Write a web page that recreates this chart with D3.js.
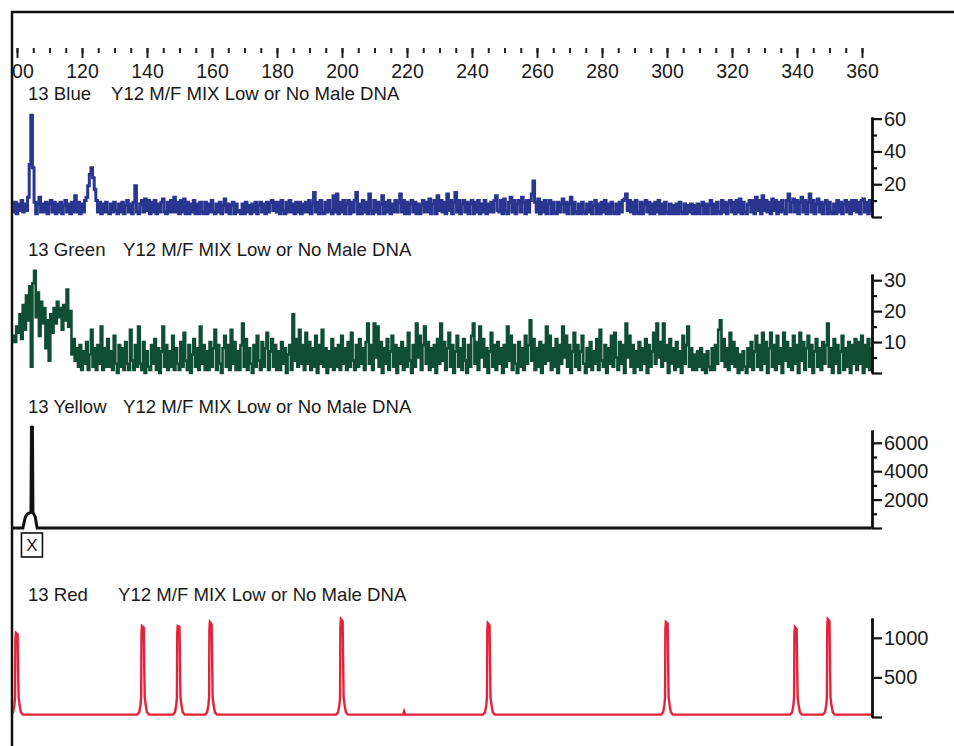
<!DOCTYPE html>
<meta charset="utf-8">
<script src="https://d3js.org/d3.v7.min.js"></script>
<style>
    body { margin: 0; background-color: white; }
    text { font-family: "Liberation Sans", Arial, sans-serif; fill: #1a1a1a; }
</style>
<div id="my_dataviz"></div>
<script>
    // run info
    var dyeNames = ["13 Blue", "13 Green", "13 Yellow", "13 Red"];
    var runTitle = "Y12 M/F MIX Low or No Male DNA";

    // size ruler (bp)
    var sizeLabels = [100, 120, 140, 160, 180, 200, 220, 240, 260, 280, 300, 320, 340, 360];

    // blue and green are sampled every half bp starting at 98.5
    var bpStart = 98.5, bpStep = 0.5;
    var blueValues = [
        8,3,9,2,8,4,10,3,8,4,12,32,62,30,9,2,8,12,3,8,
        3,9,2,8,10,3,9,2,8,3,9,2,7,10,3,8,2,9,3,13,
        3,9,2,8,3,10,12,19,26,30,24,17,10,3,9,2,8,3,9,3,
        2,8,3,9,4,2,8,3,9,2,7,10,3,8,2,9,19,3,2,8,
        10,3,11,4,10,2,9,3,10,2,8,3,9,11,3,2,9,3,10,3,
        12,3,9,2,10,3,11,2,9,2,8,3,10,2,8,2,9,3,2,9,
        2,8,3,10,3,2,8,3,9,2,7,11,3,8,2,7,9,2,8,3,
        4,2,8,2,9,3,7,2,8,3,9,2,7,9,3,8,2,9,3,9,
        10,4,9,3,9,2,10,4,2,9,3,10,3,8,2,9,3,9,2,8,
        3,9,3,10,2,8,15,3,9,2,10,3,2,9,3,10,4,2,13,3,
        14,2,9,3,10,2,8,10,2,9,3,10,15,2,8,2,10,3,9,2,
        14,4,2,10,3,9,2,8,13,2,9,3,10,2,8,3,10,3,9,14,
        3,10,2,9,2,8,10,3,9,2,8,2,7,10,3,9,3,11,2,8,
        10,2,13,4,10,3,9,2,14,4,10,2,9,15,3,10,2,8,10,3,
        9,2,8,10,2,9,3,10,2,8,3,10,2,8,3,9,3,10,13,4,
        3,10,2,11,4,2,9,12,3,10,2,8,10,3,12,9,2,10,3,10,
        14,22,9,3,11,2,9,3,10,2,8,10,2,9,3,2,9,3,8,11,
        3,9,2,8,12,2,9,3,2,8,2,9,3,2,8,3,9,2,7,10,
        2,8,2,9,3,10,2,8,2,9,3,2,8,2,9,3,10,11,14,4,
        10,3,9,2,10,3,2,9,2,8,10,3,9,2,8,2,9,3,10,2,
        8,2,9,3,2,8,2,7,2,8,2,9,3,2,8,2,7,3,8,2,
        7,2,8,2,7,9,2,8,2,7,10,2,8,2,9,3,2,10,3,9,
        2,8,10,3,9,2,10,3,11,2,9,3,2,8,10,3,10,2,12,4,
        10,2,13,4,10,3,9,2,11,4,10,2,9,3,10,4,2,10,14,3,
        9,11,3,10,2,9,12,3,10,2,9,14,3,10,2,8,11,3,9,2,
        8,10,2,9,3,2,8,2,10,3,9,2,8,10,3,9,2,10,4,10,
        3,9,2,10,11,3,9,2,10,4
    ];
    var greenValues = [
        10,12,10,15,13,19,11,22,14,25,17,28,2,29,33,18,26,12,23,16,
        21,8,17,4,19,13,21,16,23,18,21,14,22,17,27,15,20,6,11,4,
        8,2,9,1,7,3,10,1,6,14,2,8,1,9,3,15,1,8,2,11,
        2,7,1,12,3,0,9,2,8,1,10,3,1,14,4,1,9,2,15,3,
        1,10,0,7,2,1,9,3,11,1,8,0,7,15,2,9,1,7,2,12,
        1,8,3,1,10,2,13,4,1,9,0,6,11,2,8,1,15,3,9,1,
        7,1,10,2,8,14,1,9,3,0,8,12,2,9,1,14,3,10,1,7,
        1,9,16,2,11,1,8,3,0,9,2,12,4,1,10,2,8,13,1,7,
        11,2,9,1,7,1,10,3,8,0,6,9,1,19,4,11,2,14,3,9,
        1,13,3,10,1,8,2,12,0,9,3,14,2,8,0,7,2,11,1,8,
        2,9,1,12,3,8,1,10,2,13,4,1,9,2,11,3,8,1,10,16,
        3,9,1,16,5,15,2,10,0,8,3,11,1,7,12,2,9,0,8,3,
        10,1,8,2,13,4,0,9,2,16,5,12,1,9,15,3,10,1,8,2,
        9,0,11,3,16,4,10,1,8,13,2,9,0,7,12,2,8,1,11,4,
        0,9,2,12,16,3,10,1,15,5,11,2,8,0,7,13,2,9,1,10,
        3,8,0,9,2,15,4,12,1,9,3,0,10,2,8,1,12,3,9,17,
        4,11,1,8,2,10,0,9,3,15,4,12,1,8,2,11,0,9,3,15,
        5,12,2,9,0,7,13,2,9,1,7,12,3,0,8,2,10,1,7,3,
        11,1,14,4,2,9,0,8,3,12,2,13,5,1,10,3,9,0,16,5,
        12,2,9,0,7,2,10,1,8,3,11,0,9,2,7,13,3,16,5,10,
        2,16,4,9,0,11,3,8,1,10,2,7,0,12,3,9,15,2,8,1,
        6,1,7,2,8,1,6,0,7,2,1,8,1,9,3,14,17,4,11,2,
        8,1,13,3,10,2,8,0,6,1,7,2,0,8,2,10,1,7,12,2,
        9,1,13,3,10,0,8,13,2,9,1,12,3,8,0,13,4,10,2,8,
        1,12,3,9,0,13,4,10,1,8,12,2,9,0,7,11,2,8,1,10,
        3,9,16,2,8,0,11,3,9,0,7,12,1,8,2,10,0,9,3,11,
        1,10,3,12,0,9,2,11,1,8
    ];

    // yellow and red as [bp, rfu] points
    var yellowPoints = [
        [98.5,0],[101.8,0],[102.6,800],[103.3,1000],[104.3,1100],[104.45,7100],
        [104.75,7100],[104.9,1100],[105.6,800],[106.2,0],[363,0]
    ];
    var redPoints = [
        [98.5,40],[98.8,60],[99.2,150],[99.4,250],[99.5,980],[99.65,1062],[100.2,1040],[100.35,580],[100.5,250],[100.8,150],[101.2,60],[101.8,30],
        [137,30],[137.6,60],[138,150],[138.2,250],[138.3,1060],[138.45,1150],[139,1130],[139.15,630],[139.3,250],[139.6,150],[140,60],[140.6,30],
        [148,30],[148.6,60],[149,150],[149.2,250],[149.3,1060],[149.45,1150],[150,1140],[150.15,640],[150.3,250],[150.6,150],[151,60],[151.6,30],
        [157.9,30],[158.5,60],[158.9,150],[159.1,250],[159.2,1100],[159.35,1200],[159.9,1170],[160.05,700],[160.2,250],[160.5,150],[160.9,60],[161.5,30],
        [198.2,30],[198.8,60],[199.2,150],[199.4,250],[199.5,1140],[199.65,1237],[200.2,1210],[200.35,680],[200.5,250],[200.8,150],[201.2,60],[201.8,30],
        [218.8,30],[219.1,70],[219.4,30],
        [243.4,30],[244,60],[244.4,150],[244.6,250],[244.7,1090],[244.85,1187],[245.4,1160],[245.55,660],[245.7,250],[246,150],[246.4,60],[247,30],
        [298.2,30],[298.8,60],[299.2,150],[299.4,250],[299.5,1100],[299.65,1200],[300.2,1180],[300.35,690],[300.5,250],[300.8,150],[301.2,60],[301.8,30],
        [337.9,30],[338.5,60],[338.9,150],[339.1,250],[339.2,1050],[339.35,1137],[339.9,1110],[340.05,620],[340.2,250],[340.5,150],[340.9,60],[341.5,30],
        [348,30],[348.6,60],[349,150],[349.2,250],[349.3,1140],[349.45,1237],[350,1210],[350.15,700],[350.3,250],[350.6,150],[351,60],[351.6,30],
        [363,30]
    ];

    // rfu axis ticks per dye
    var blueTicks = [0, 20, 40, 60], blueMinor = [10, 30, 50];
    var greenTicks = [0, 10, 20, 30], greenMinor = [5, 15, 25];
    var yellowTicks = [0, 2000, 4000, 6000], yellowMinor = [1000, 3000, 5000];
    var redTicks = [0, 500, 1000], redMinor = [];

    var sampled = function(values) {
        return values.map(function(v, i) { return [bpStart + i * bpStep, v]; });
    };

    var panels = [
        { name: dyeNames[0], points: sampled(blueValues), color: "#28368f", lw: 3, curve: d3.curveStep,
          ticks: blueTicks, minor: blueMinor, top: 61, y0: 217, y1: 117, titleY: 100, runX: 111 },
        { name: dyeNames[1], points: sampled(greenValues), color: "#0f4d34", lw: 2.6, curve: d3.curveStep,
          ticks: greenTicks, minor: greenMinor, top: 32, y0: 373, y1: 274, titleY: 256, runX: 123 },
        { name: dyeNames[2], points: yellowPoints, color: "#111", lw: 3, curve: d3.curveLinear,
          ticks: yellowTicks, minor: yellowMinor, top: 6900, y0: 528, y1: 430, titleY: 413, runX: 123 },
        { name: dyeNames[3], points: redPoints, color: "#e5223a", lw: 2.4, curve: d3.curveLinear,
          ticks: redTicks, minor: redMinor, top: 1250, y0: 717, y1: 618, titleY: 601, runX: 118 }
    ];

    var width = 954, height = 746;
    var svg = d3.select("#my_dataviz")
        .append("svg")
        .attr("width", width)
        .attr("height", height);

    svg.append("clipPath").attr("id", "frame-clip")
        .append("rect").attr("x", 13).attr("y", 13).attr("width", width - 13).attr("height", height - 13);

    var x = d3.scaleLinear().domain([100, 360]).range([17, 862]);

    // outer frame
    svg.append("path")
        .attr("d", "M12," + height + "V12H" + width)
        .attr("fill", "none")
        .attr("stroke", "#111")
        .attr("stroke-width", 2.5);

    // size ruler
    var ruler = svg.append("g").attr("clip-path", "url(#frame-clip)");
    ruler.append("g")
        .attr("transform", "translate(0,48)")
        .call(d3.axisBottom(x).tickValues(d3.range(100, 361, 5)).tickSize(5).tickFormat(""));
    ruler.append("g")
        .attr("transform", "translate(0,48)")
        .call(d3.axisBottom(x).tickValues(sizeLabels).tickSize(10).tickPadding(6).tickFormat(d3.format("d")));
    ruler.selectAll(".domain").remove();
    ruler.selectAll(".tick line").attr("stroke", "#222").attr("stroke-width", 2);
    ruler.selectAll(".tick text").attr("font-size", "19.5px").attr("font-family", "Liberation Sans, Arial, sans-serif").attr("fill", "#1a1a1a");

    panels.forEach(function(p) {
        var y = d3.scaleLinear().domain([0, p.top]).range([p.y0, p.y1]);

        svg.append("text").attr("x", 28).attr("y", p.titleY).attr("font-size", "18.6px").text(p.name);
        svg.append("text").attr("x", p.runX).attr("y", p.titleY).attr("font-size", "18.6px").text(runTitle);

        var line = d3.line()
            .x(function(d) { return x(d[0]); })
            .y(function(d) { return y(d[1]); })
            .curve(p.curve);

        svg.append("path")
            .datum(p.points)
            .attr("clip-path", "url(#frame-clip)")
            .attr("fill", "none")
            .attr("stroke", p.color)
            .attr("stroke-width", p.lw)
            .attr("stroke-linejoin", "miter")
            .attr("d", line);

        var ax = svg.append("g").attr("transform", "translate(872,0)");
        ax.append("g")
            .call(d3.axisRight(y).tickValues(p.minor).tickSize(5).tickSizeOuter(0).tickFormat(""));
        ax.append("g")
            .call(d3.axisRight(y).tickValues(p.ticks).tickSize(10).tickSizeOuter(0).tickPadding(2)
                .tickFormat(function(d) { return d ? d : ""; }));
        ax.selectAll(".domain").attr("stroke", "#111").attr("stroke-width", 2.5);
        ax.selectAll(".tick line").attr("stroke", "#111").attr("stroke-width", 2.2);
        ax.selectAll(".tick text").attr("font-size", "20px").attr("font-family", "Liberation Sans, Arial, sans-serif").attr("fill", "#1a1a1a");
    });

    // marker box under the yellow peak
    var bx = x(104.6);
    svg.append("rect")
        .attr("x", bx - 10.5).attr("y", 533).attr("width", 21).attr("height", 24)
        .attr("fill", "none").attr("stroke", "#111").attr("stroke-width", 1.6);
    svg.append("text")
        .attr("x", bx).attr("y", 551).attr("text-anchor", "middle").attr("font-size", "17px")
        .text("X");
</script>
